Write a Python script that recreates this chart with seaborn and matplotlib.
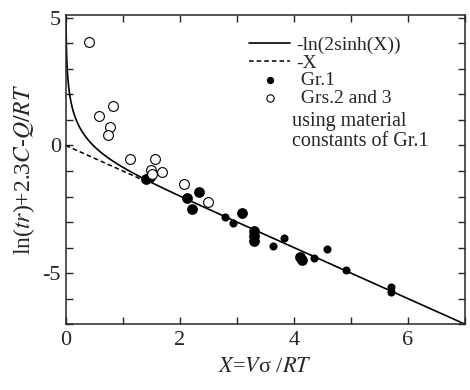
import numpy as np
import matplotlib
matplotlib.use("Agg")
import matplotlib.pyplot as plt
import seaborn as sns
from matplotlib.ticker import MultipleLocator

# Gr.1 (filled circles), larger blobs and small dots
gr1_big_x = [1.40, 1.47, 2.12, 2.34, 2.22, 3.09, 3.30, 3.30, 3.31, 4.10, 4.15]
gr1_big_y = [-1.30, -1.22, -2.05, -1.83, -2.48, -2.63, -3.35, -3.55, -3.75, -4.38, -4.47]
gr1_small_x = [2.80, 2.94, 3.83, 3.64, 4.35, 4.58, 4.92, 5.71, 5.71]
gr1_small_y = [-2.81, -3.05, -3.62, -3.95, -4.41, -4.07, -4.88, -5.53, -5.75]

# Grs.2 and 3 (open circles)
grs23_x = [0.40, 0.58, 0.82, 0.78, 0.74, 1.13, 1.57, 1.50, 1.52, 1.69, 2.08, 2.50]
grs23_y = [4.05, 1.15, 1.56, 0.72, 0.42, -0.54, -0.52, -0.95, -1.12, -1.05, -1.50, -2.20]

# theory curves
xs = np.linspace(0.001, 7.0, 2000)
ys = -np.log(2 * np.sinh(xs))
xd = np.linspace(0, 1.45, 50)
yd = -xd

sns.set_style("ticks")
plt.rcParams['font.family'] = ['Liberation Serif', 'DejaVu Serif']
plt.rcParams['mathtext.fontset'] = 'stix'
plt.rcParams['axes.unicode_minus'] = False

fig = plt.figure(figsize=(4.7, 3.9), dpi=100)
ax = fig.add_axes([0.140, 0.169, 0.849, 0.793])

sns.lineplot(x=xs, y=ys, color='black', linewidth=1.2, label='-ln(2sinh(X))', ax=ax, sort=False)
sns.lineplot(x=xd, y=yd, color='black', linewidth=1.1, linestyle=(0, (3, 2)), label='-X', ax=ax, sort=False)
sns.scatterplot(x=gr1_big_x, y=gr1_big_y, color='black', s=60, edgecolor='black', linewidth=0, ax=ax, label=' Gr.1')
sns.scatterplot(x=gr1_small_x, y=gr1_small_y, color='black', s=34, edgecolor='black', linewidth=0, ax=ax)
sns.scatterplot(x=grs23_x, y=grs23_y, facecolor='white', s=50, edgecolor='black', linewidth=0.8, ax=ax,
                label=' Grs.2 and 3')

ax.set_xlim(0, 7)
ax.set_ylim(-7, 5.12)
ax.xaxis.set_major_locator(MultipleLocator(2))
ax.xaxis.set_minor_locator(MultipleLocator(1))
ax.yaxis.set_major_locator(MultipleLocator(5))
ax.yaxis.set_minor_locator(MultipleLocator(1))
ax.tick_params(which='both', direction='in', top=True, right=True, length=5, width=1, labelsize=16)
ax.tick_params(axis='x', pad=5)
for s in ax.spines.values():
    s.set_linewidth(1.1)

ax.set_xlabel(r'$X$=$V$σ /$RT$', fontsize=16, labelpad=6)
ax.set_ylabel('ln(' + r'$tr$' + ')+2.3' + r'$C$' + '-' + r'$Q/RT$', fontsize=17, labelpad=4)

h, l = ax.get_legend_handles_labels()
leg = ax.legend(h, l, loc='upper left', bbox_to_anchor=(0.44, 0.955), frameon=False, fontsize=14,
                handlelength=2.1, handletextpad=0.3, labelspacing=0.0, borderaxespad=0)
for hd in leg.legend_handles[2:]:
    hd.set_sizes([28])
ax.text(0.567, 0.685, 'using material\nconstants of Gr.1', transform=ax.transAxes, fontsize=14.5,
        va='top', ha='left', linespacing=1.05)

fig.savefig('out.png', dpi=100)
